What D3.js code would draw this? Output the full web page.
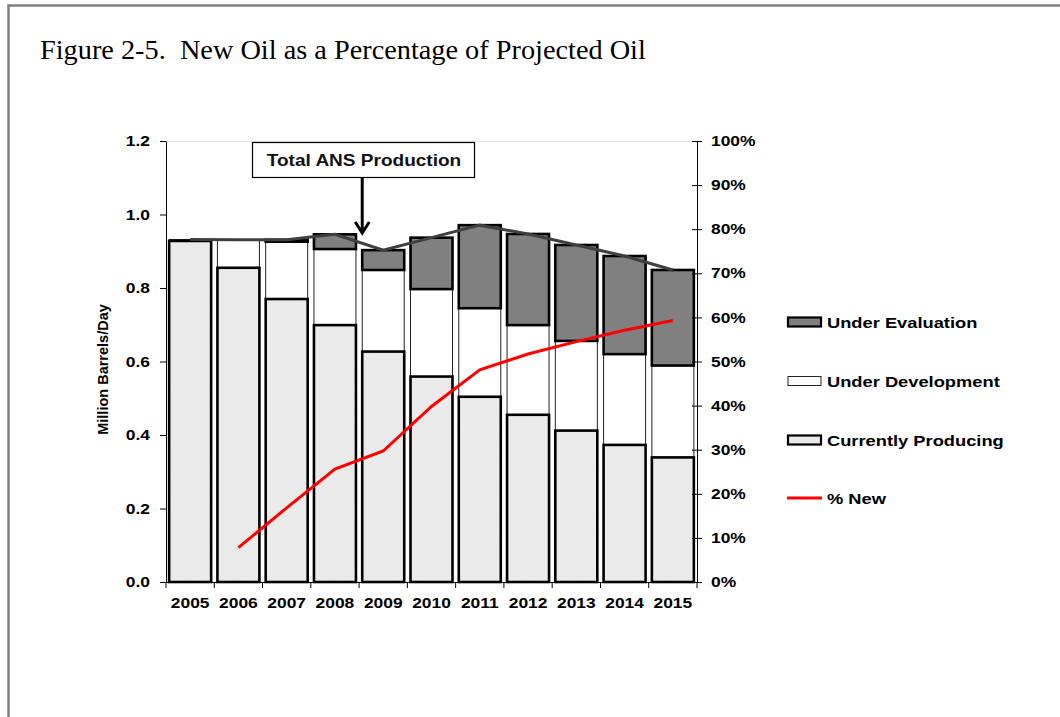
<!DOCTYPE html>
<html>
<head>
<meta charset="utf-8">
<script src="https://cdn.jsdelivr.net/npm/d3@7"></script>
<style>
  html, body { margin: 0; padding: 0; background: #fff; }
  svg { display: block; }
  .lbl { font-family: "Liberation Sans", Arial, sans-serif; font-weight: bold; fill: #000; }
</style>
</head>
<body>
<svg id="chart" width="1060" height="717"></svg>
<script>
// ---- data (million barrels per day, % new) ----
const years = ["2005", "2006", "2007", "2008", "2009", "2010", "2011", "2012", "2013", "2014", "2015"];
const currentlyProducing = [0.928, 0.855, 0.770, 0.699, 0.627, 0.559, 0.504, 0.455, 0.412, 0.373, 0.339];
const underDevelopment   = [0.004, 0.076, 0.156, 0.207, 0.222, 0.238, 0.241, 0.244, 0.244, 0.247, 0.250];
const underEvaluation    = [0.000, 0.000, 0.005, 0.040, 0.054, 0.140, 0.226, 0.248, 0.261, 0.267, 0.260];
const pctNewYears = ["2006", "2007", "2008", "2009", "2010", "2011", "2012", "2013", "2014", "2015"];
const pctNew      = [0.078, 0.168, 0.256, 0.297, 0.398, 0.481, 0.517, 0.545, 0.571, 0.593];
const leftTicks  = [0, 0.2, 0.4, 0.6, 0.8, 1.0, 1.2];
const rightTicks = [0, 0.1, 0.2, 0.3, 0.4, 0.5, 0.6, 0.7, 0.8, 0.9, 1.0];
const seriesNames = ["Under Evaluation", "Under Development", "Currently Producing", "% New"];

const svg = d3.select("#chart");
const SX = 1.2; // horizontal widening of the chart's sans-serif labels

// widen a text element horizontally while keeping its anchor point fixed
function widen(sel, sx) {
  sel.each(function () {
    const t = d3.select(this);
    const x = +(t.attr("x") || 0);
    t.attr("x", x / sx).attr("transform", `scale(${sx},1)`);
  });
}

// page frame
svg.append("rect")
  .attr("x", 8.5).attr("y", 5.5).attr("width", 1200).attr("height", 900)
  .attr("fill", "none").attr("stroke", "#7f7f7f").attr("stroke-width", 2.5);

svg.append("text")
  .attr("x", 40).attr("y", 59)
  .attr("font-family", "'Liberation Serif', 'Times New Roman', serif")
  .attr("font-size", 28.3)
  .attr("fill", "#000")
  .style("white-space", "pre")
  .text("Figure 2-5.  New Oil as a Percentage of Projected Oil");

// ---- scales ----
const plot = { left: 166, right: 697, top: 141, bottom: 582 };
const x = d3.scaleBand().domain(years).range([plot.left, plot.right])
  .paddingInner(0.13).paddingOuter(0.065);
const y = d3.scaleLinear().domain([0, 1.2]).range([plot.bottom, plot.top]);
const y2 = d3.scaleLinear().domain([0, 1]).range([plot.bottom, plot.top]);

// grain texture for the producing bars
const defs = svg.append("defs");
const grain = defs.append("filter").attr("id", "grain")
  .attr("x", 0).attr("y", 0).attr("width", 1).attr("height", 1);
grain.append("feTurbulence").attr("type", "fractalNoise").attr("baseFrequency", 0.8)
  .attr("numOctaves", 2).attr("seed", 7).attr("result", "noise");
grain.append("feColorMatrix").attr("in", "noise").attr("type", "matrix")
  .attr("values", "0 0 0 0 0.8  0 0 0 0 0.8  0 0 0 0 0.8  0 0 0 1.4 -0.55")
  .attr("result", "speck");
grain.append("feComposite").attr("in", "speck").attr("in2", "SourceGraphic")
  .attr("operator", "in").attr("result", "clipped");
const gm = grain.append("feMerge");
gm.append("feMergeNode").attr("in", "SourceGraphic");
gm.append("feMergeNode").attr("in", "clipped");

// plot area top border
svg.append("line")
  .attr("x1", plot.left).attr("x2", plot.right)
  .attr("y1", plot.top + 0.5).attr("y2", plot.top + 0.5)
  .attr("stroke", "#e3e3e3").attr("stroke-width", 1);

// ---- stacked bars ----
const rows = years.map((yr, i) => ({
  year: yr,
  prod: currentlyProducing[i],
  dev: underDevelopment[i],
  evalv: underEvaluation[i]
}));
const stack = d3.stack().keys(["prod", "dev", "evalv"])(rows);
const styles = {
  prod:  { fill: "#ebebeb", stroke: "#000", sw: 2.6 },
  dev:   { fill: "#ffffff", stroke: "#222", sw: 1 },
  evalv: { fill: "#808080", stroke: "#000", sw: 2.6 }
};

// thin-outlined development bars first, heavy-outlined bars on top
["dev", "prod", "evalv"].forEach(key => {
  const layer = stack.find(s => s.key === key).filter(d => d[1] - d[0] > 0.001);
  const st = styles[key];
  const g = svg.append("g");
  const place = sel => sel
    .attr("x", d => x(d.data.year))
    .attr("width", x.bandwidth())
    .attr("y", d => y(d[1]))
    .attr("height", d => y(d[0]) - y(d[1]));
  if (key === "prod") {
    // textured fill, then the heavy outline on top
    g.selectAll("rect.fill").data(layer).join("rect").attr("class", "fill")
      .call(place).attr("fill", st.fill).attr("filter", "url(#grain)");
    g.selectAll("rect.edge").data(layer).join("rect").attr("class", "edge")
      .call(place).attr("fill", "none").attr("stroke", st.stroke).attr("stroke-width", st.sw);
  } else {
    g.selectAll("rect").data(layer).join("rect")
      .call(place).attr("fill", st.fill).attr("stroke", st.stroke).attr("stroke-width", st.sw);
  }
});

// ---- total ANS production line ----
const totals = rows.map(r => ({ year: r.year, v: r.prod + r.dev + r.evalv }));
svg.append("path")
  .datum(totals)
  .attr("fill", "none")
  .attr("stroke", "#3f3f3f")
  .attr("stroke-width", 3)
  .attr("d", d3.line().x(d => x(d.year) + x.bandwidth() / 2).y(d => y(d.v)));

// ---- % new line ----
svg.append("path")
  .datum(pctNewYears.map((yr, i) => ({ year: yr, v: pctNew[i] })))
  .attr("fill", "none")
  .attr("stroke", "#ff0000")
  .attr("stroke-width", 3)
  .attr("d", d3.line().x(d => x(d.year) + x.bandwidth() / 2).y(d => y2(d.v)));

// ---- axes ----
const axL = svg.append("g").attr("transform", `translate(${plot.left},0)`)
  .call(d3.axisLeft(y).tickValues(leftTicks).tickFormat(d3.format(".1f"))
    .tickSize(6).tickSizeOuter(0).tickPadding(10));
const axR = svg.append("g").attr("transform", `translate(${plot.right},0)`)
  .call(d3.axisRight(y2).tickValues(rightTicks).tickFormat(d3.format(".0%"))
    .tickSize(5).tickSizeOuter(0).tickPadding(9));
axR.selectAll(".tick line").attr("x1", -5);

const axB = svg.append("g").attr("transform", `translate(0,${plot.bottom})`)
  .call(d3.axisBottom(x).tickSize(0).tickSizeOuter(0).tickPadding(21));
// tick marks at category boundaries
const half = x.step() * x.paddingInner() / 2;
const edgeX = (d, i) => i < years.length ? x(d) - half : x(years[years.length - 1]) + x.bandwidth() + half;
axB.selectAll(".edge")
  .data(years.concat(["end"]))
  .join("line")
  .attr("class", "edge")
  .attr("x1", edgeX).attr("x2", edgeX)
  .attr("y1", 0).attr("y2", 6)
  .attr("stroke", "#000");

[axL, axR, axB].forEach(ax => {
  ax.selectAll(".domain").attr("stroke", "#000");
  ax.selectAll(".tick line").attr("stroke", "#000");
  ax.selectAll("text").attr("class", "lbl").attr("font-size", 14.5).attr("font-family", null);
  widen(ax.selectAll("text"), SX);
});
axB.selectAll("text").attr("dy", "0.32em");

// ---- y axis title ----
svg.append("text")
  .attr("class", "lbl")
  .attr("font-size", 14.5)
  .attr("text-anchor", "middle")
  .attr("transform", `translate(108,${(plot.top + plot.bottom) / 2 + 8}) rotate(-90)`)
  .text("Million Barrels/Day");

// ---- callout ----
const call = svg.append("g");
call.append("rect")
  .attr("x", 252.5).attr("y", 142.5).attr("width", 222).attr("height", 35)
  .attr("fill", "#fff").attr("stroke", "#000").attr("stroke-width", 1.2);
const ct = call.append("text")
  .attr("x", 364).attr("y", 166.5)
  .attr("text-anchor", "middle")
  .attr("font-family", "'Liberation Sans', Arial, sans-serif")
  .attr("font-size", 17)
  .attr("font-weight", "bold")
  .attr("fill", "#111")
  .text("Total ANS Production");
widen(ct, 1.12);
const ax0 = x("2009");
call.append("line")
  .attr("x1", ax0).attr("x2", ax0).attr("y1", 178).attr("y2", 232)
  .attr("stroke", "#000").attr("stroke-width", 3);
call.append("path")
  .attr("d", `M${ax0 - 7},${222} L${ax0},${233} L${ax0 + 7},${222}`)
  .attr("fill", "none").attr("stroke", "#000").attr("stroke-width", 3);

// ---- legend ----
const legend = svg.append("g").attr("transform", "translate(787,0)");
const legY = [322, 381, 440, 498];
const swatch = [
  { fill: "#808080", stroke: "#000", sw: 2.2 },
  { fill: "#fff", stroke: "#222", sw: 1 },
  { fill: "#ebebeb", stroke: "#000", sw: 2.2 }
];
seriesNames.forEach((name, i) => {
  const g = legend.append("g").attr("transform", `translate(0,${legY[i]})`);
  if (i < 3) {
    g.append("rect").attr("x", 1).attr("y", -4.5).attr("width", 33).attr("height", 9)
      .attr("fill", swatch[i].fill).attr("stroke", swatch[i].stroke).attr("stroke-width", swatch[i].sw);
  } else {
    g.append("line").attr("x1", 0).attr("x2", 35).attr("y1", 0).attr("y2", 0)
      .attr("stroke", "#ff0000").attr("stroke-width", 3);
  }
  const t = g.append("text").attr("class", "lbl").attr("font-size", 15)
    .attr("x", 40).attr("y", 5.5).text(name);
  widen(t, 1.22);
});
</script>
</body>
</html>
